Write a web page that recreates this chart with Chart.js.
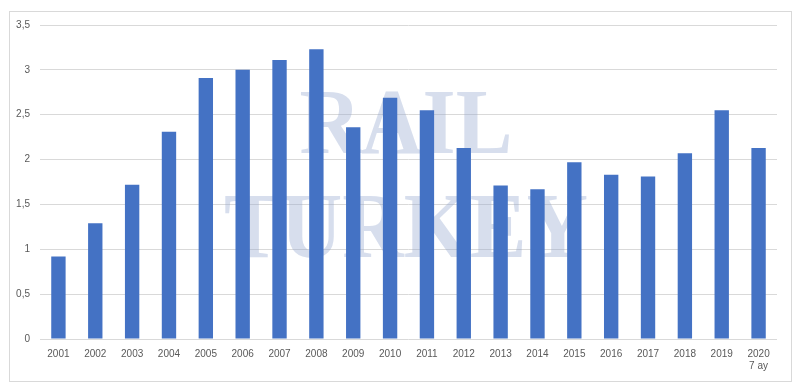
<!DOCTYPE html>
<html>
<head>
<meta charset="utf-8">
<script src="https://cdn.jsdelivr.net/npm/chart.js@4"></script>
<style>
  html, body { margin: 0; padding: 0; background: #ffffff; }
  #wrap { width: 800px; height: 390px; position: relative; }
</style>
</head>
<body>
<div id="wrap"><canvas id="c" width="800" height="390"></canvas></div>
<script>
const categories = ["2001","2002","2003","2004","2005","2006","2007","2008","2009","2010","2011","2012","2013","2014","2015","2016","2017","2018","2019",["2020","7 ay"]];
const values = [0.92, 1.29, 1.72, 2.31, 2.91, 3.00, 3.11, 3.23, 2.36, 2.69, 2.55, 2.13, 1.71, 1.67, 1.97, 1.83, 1.81, 2.07, 2.55, 2.13];
const yMin = 0, yMax = 3.5, yStep = 0.5;
const watermarkLines = ["RAIL", "TURKEY"];

const frame = {
  id: 'frame',
  beforeDraw(chart) {
    const ctx = chart.ctx;
    ctx.save();
    ctx.fillStyle = '#ffffff';
    ctx.fillRect(0, 0, chart.width, chart.height);
    ctx.strokeStyle = '#d9d9d9';
    ctx.lineWidth = 1;
    ctx.strokeRect(9.5, 11.5, 782, 370);
    ctx.restore();
  }
};

const watermark = {
  id: 'watermark',
  beforeDatasetsDraw(chart) {
    const ctx = chart.ctx;
    const draw = (txt, y) => {
      ctx.save();
      ctx.translate(406, y);
      ctx.scale(0.915, 1);
      ctx.fillText(txt, 0, 0);
      ctx.restore();
    };
    ctx.save();
    ctx.font = 'bold 93px "Liberation Serif", "DejaVu Serif", serif';
    ctx.fillStyle = 'rgba(143,163,204,0.36)';
    ctx.textAlign = 'center';
    ctx.textBaseline = 'alphabetic';
    draw(watermarkLines[0], 153);
    draw(watermarkLines[1], 257);
    ctx.restore();
  }
};

new Chart(document.getElementById('c'), {
  type: 'bar',
  data: {
    labels: categories,
    datasets: [{
      data: values,
      backgroundColor: '#4472c4',
      borderWidth: 0,
      categoryPercentage: 1.0,
      barPercentage: 0.39
    }]
  },
  options: {
    responsive: false,
    animation: false,
    devicePixelRatio: 1,
    layout: { padding: { top: 25, right: 23, bottom: 0, left: 0 } },
    plugins: { legend: { display: false }, tooltip: { enabled: false } },
    scales: {
      x: {
        grid: { display: false, drawTicks: false },
        border: { display: false },
        ticks: {
          color: '#595959',
          font: { family: '"Liberation Sans", Arial, sans-serif', size: 10 },
          maxRotation: 0, autoSkip: false, padding: 9
        },
        afterFit(axis) { axis.height = 51; }
      },
      y: {
        min: yMin, max: yMax,
        grid: { color: '#d9d9d9', lineWidth: 1, drawTicks: false },
        border: { display: false },
        ticks: {
          stepSize: yStep,
          color: '#595959',
          font: { family: '"Liberation Sans", Arial, sans-serif', size: 10 },
          padding: 10,
          callback: (v) => String(v).replace('.', ',')
        },
        afterFit(axis) { axis.width = 40; }
      }
    }
  },
  plugins: [frame, watermark]
});
</script>
</body>
</html>
